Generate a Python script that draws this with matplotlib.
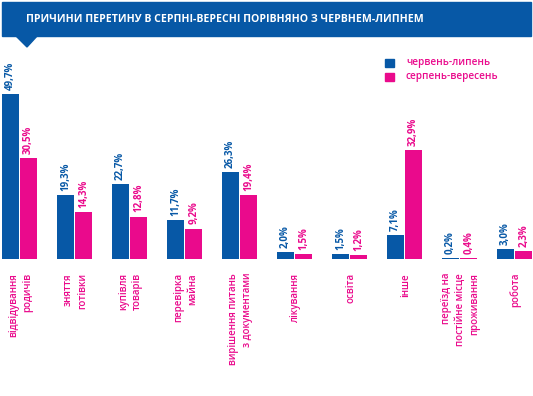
import matplotlib.pyplot as plt
import numpy as np
from matplotlib.patches import Polygon, Rectangle

plt.rcParams["font.family"] = ["Open Sans", "DejaVu Sans"]

TITLE = "ПРИЧИНИ ПЕРЕТИНУ В СЕРПНІ-ВЕРЕСНІ ПОРІВНЯНО З ЧЕРВНЕМ-ЛИПНЕМ"
categories = [
    "відвідування\nродичів",
    "зняття\nготівки",
    "купівля\nтоварів",
    "перевірка\nмайна",
    "вирішення питань\nз документами",
    "лікування",
    "освіта",
    "інше",
    "переїзд на\nпостійне місце\nпроживання",
    "робота",
]
jun_jul = [49.7, 19.3, 22.7, 11.7, 26.3, 2.0, 1.5, 7.1, 0.2, 3.0]
aug_sep = [30.5, 14.3, 12.8, 9.2, 19.4, 1.5, 1.2, 32.9, 0.4, 2.3]
series_names = ["червень-липень", "серпень-вересень"]

BLUE = "#0758A6"
PINK = "#EA0A8C"

W, H = 533, 396
fig = plt.figure(figsize=(W / 100, H / 100), dpi=100)

# title banner with pointer
fig.patches.append(Rectangle((2 / W, 1 - 36 / H), 529 / W, 34 / H,
                             transform=fig.transFigure, color=BLUE, zorder=0))
fig.patches.append(Polygon([(15 / W, 1 - 35 / H), (38 / W, 1 - 35 / H), (27 / W, 1 - 47 / H)],
                           closed=True, transform=fig.transFigure, color=BLUE, zorder=0))
fig.text(26 / W, 1 - 19 / H, TITLE, color="white", fontsize=7.6, fontweight="bold",
         ha="left", va="center")

# plot area: baseline at y=259 px, 3.31 px per percent
px_per_unit = 55.0
x0 = -0.356
ax = fig.add_axes([0, (H - 259) / H, 1, 50 * 3.31 / H])
ax.set_xlim(x0, x0 + W / px_per_unit)
ax.set_ylim(0, 50)
ax.axis("off")

x = np.arange(len(categories))
bw = 0.31
off = 0.165
ax.bar(x - off, jun_jul, width=bw, color=BLUE)
ax.bar(x + off, aug_sep, width=bw, color=PINK)

for xi, v in zip(x, jun_jul):
    ax.annotate(f"{v:.1f}%".replace(".", ","), (xi - off, v), xytext=(0, 3),
                textcoords="offset points", rotation=90, ha="center", va="bottom",
                color=BLUE, fontsize=7, fontweight="bold")
for xi, v in zip(x, aug_sep):
    ax.annotate(f"{v:.1f}%".replace(".", ","), (xi + off, v), xytext=(0, 3),
                textcoords="offset points", rotation=90, ha="center", va="bottom",
                color=PINK, fontsize=7, fontweight="bold")

for xi, lab in zip(x, categories):
    ax.annotate(lab, (xi + 0.02, 0), xytext=(0, -10), textcoords="offset points",
                rotation=90, ha="center", va="top", multialignment="right",
                color=PINK, fontsize=7, fontweight="semibold", linespacing=1.4)

# legend
for i, (name, col) in enumerate(zip(series_names, [BLUE, PINK])):
    yc = 63 + 14 * i
    fig.patches.append(Rectangle((385 / W, 1 - (yc + 4) / H), 9 / W, 8 / H,
                                 transform=fig.transFigure, color=col))
    fig.text(406 / W, 1 - yc / H, name, color=PINK, fontsize=7.2,
             fontweight="semibold", ha="left", va="center")

fig.savefig("out.png", dpi=100)
